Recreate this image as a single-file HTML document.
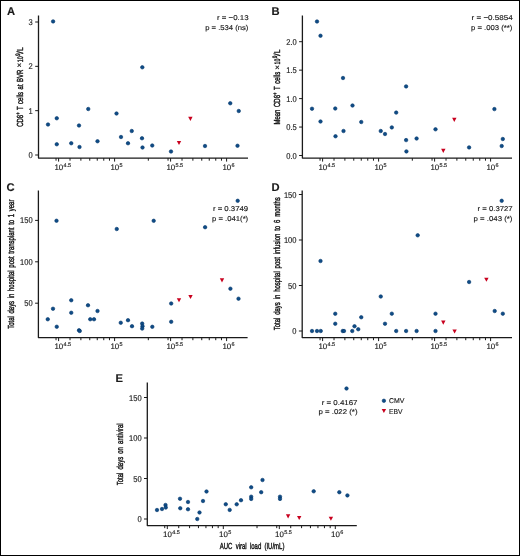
<!DOCTYPE html>
<html><head><meta charset="utf-8"><style>
html,body{margin:0;padding:0;background:#fff;}
body{width:520px;height:556px;overflow:hidden;font-family:"Liberation Sans",sans-serif;}
svg{display:block;will-change:transform;}
text{font-family:"Liberation Sans",sans-serif;text-rendering:geometricPrecision;stroke:#111;stroke-width:0.14px;}
</style></head><body>
<svg width="520" height="556" viewBox="0 0 520 556">
<rect x="0" y="0" width="520" height="556" fill="#fff"/>
<rect x="0.5" y="0.5" width="519" height="555" fill="none" stroke="#000" stroke-width="1"/>
<g font-family="Liberation Sans, sans-serif" fill="#1a1a1a" stroke-linejoin="round">
<path d="M38.50 15.50V158.10H248.00" fill="none" stroke="#1a1a1a" stroke-width="1.3"/>
<path d="M35.20 155.00H38.50" stroke="#1a1a1a" stroke-width="1"/>
<text transform="translate(32.80 158.00) scale(0.9 1)" font-size="8.4" text-anchor="end">0</text>
<path d="M35.20 110.67H38.50" stroke="#1a1a1a" stroke-width="1"/>
<text transform="translate(32.80 113.67) scale(0.9 1)" font-size="8.4" text-anchor="end">1</text>
<path d="M35.20 66.34H38.50" stroke="#1a1a1a" stroke-width="1"/>
<text transform="translate(32.80 69.34) scale(0.9 1)" font-size="8.4" text-anchor="end">2</text>
<path d="M35.20 22.01H38.50" stroke="#1a1a1a" stroke-width="1"/>
<text transform="translate(32.80 25.01) scale(0.9 1)" font-size="8.4" text-anchor="end">3</text>
<path d="M56.04 158.10v2.6" stroke="#1a1a1a" stroke-width="1"/>
<path d="M70.03 158.10v2.6" stroke="#1a1a1a" stroke-width="1"/>
<path d="M80.88 158.10v2.6" stroke="#1a1a1a" stroke-width="1"/>
<path d="M89.75 158.10v2.6" stroke="#1a1a1a" stroke-width="1"/>
<path d="M97.25 158.10v2.6" stroke="#1a1a1a" stroke-width="1"/>
<path d="M103.75 158.10v2.6" stroke="#1a1a1a" stroke-width="1"/>
<path d="M109.48 158.10v2.6" stroke="#1a1a1a" stroke-width="1"/>
<path d="M114.60 158.10v3.5" stroke="#1a1a1a" stroke-width="1"/>
<path d="M148.32 158.10v2.6" stroke="#1a1a1a" stroke-width="1"/>
<path d="M168.04 158.10v2.6" stroke="#1a1a1a" stroke-width="1"/>
<path d="M182.03 158.10v2.6" stroke="#1a1a1a" stroke-width="1"/>
<path d="M192.88 158.10v2.6" stroke="#1a1a1a" stroke-width="1"/>
<path d="M201.75 158.10v2.6" stroke="#1a1a1a" stroke-width="1"/>
<path d="M209.25 158.10v2.6" stroke="#1a1a1a" stroke-width="1"/>
<path d="M215.75 158.10v2.6" stroke="#1a1a1a" stroke-width="1"/>
<path d="M221.48 158.10v2.6" stroke="#1a1a1a" stroke-width="1"/>
<path d="M226.60 158.10v3.5" stroke="#1a1a1a" stroke-width="1"/>
<path d="M58.60 158.10v3.5" stroke="#1a1a1a" stroke-width="1"/>
<path d="M170.60 158.10v3.5" stroke="#1a1a1a" stroke-width="1"/>
<text x="54.40" y="169.90" font-size="7.9">10<tspan dx="0.3" dy="-3.1" font-size="5.5">4.5</tspan></text>
<text x="110.40" y="169.90" font-size="7.9">10<tspan dx="0.3" dy="-3.1" font-size="5.5">5</tspan></text>
<text x="166.40" y="169.90" font-size="7.9">10<tspan dx="0.3" dy="-3.1" font-size="5.5">5.5</tspan></text>
<text x="222.40" y="169.90" font-size="7.9">10<tspan dx="0.3" dy="-3.1" font-size="5.5">6</tspan></text>
<text x="6.90" y="14.90" font-size="11.2" font-weight="bold">A</text>
<text x="248.60" y="20.20" font-size="7" text-anchor="end" textLength="31.60" lengthAdjust="spacingAndGlyphs">r = &#8722;0.13</text>
<text x="248.40" y="29.60" font-size="7" text-anchor="end" textLength="43.20" lengthAdjust="spacingAndGlyphs">p = .534 (ns)</text>
<text id="labA" transform="translate(22.80 126.80) rotate(-90) scale(0.68 1)" font-size="8.8" style="word-spacing:1.257px;stroke-width:0.42px">CD8<tspan dy="-3.2" font-size="6.2">+</tspan><tspan dy="3.2"> T cells at BVR</tspan></text>
<text transform="translate(22.3 65.0) rotate(-90)" font-size="8.2" text-anchor="middle" style="stroke-width:0.2px">&#215;</text>
<text transform="translate(22.80 62.30) rotate(-90) scale(0.66 1)" font-size="8.0" style="stroke-width:0.38px">10</text>
<text transform="translate(20.00 56.10) rotate(-90) scale(0.76 1)" font-size="6.4" style="stroke-width:0.38px">9</text>
<text transform="translate(22.80 53.70) rotate(-90) scale(1.1 1)" font-size="8.6" style="stroke-width:0.38px">/</text>
<text transform="translate(22.80 50.80) rotate(-90) scale(0.73 1)" font-size="8.6" style="stroke-width:0.38px">L</text>
<path d="M302.40 15.50V158.10H512.00" fill="none" stroke="#1a1a1a" stroke-width="1.3"/>
<path d="M299.10 155.50H302.40" stroke="#1a1a1a" stroke-width="1"/>
<text transform="translate(296.70 158.50) scale(0.9 1)" font-size="8.4" text-anchor="end">0.0</text>
<path d="M299.10 127.05H302.40" stroke="#1a1a1a" stroke-width="1"/>
<text transform="translate(296.70 130.05) scale(0.9 1)" font-size="8.4" text-anchor="end">0.5</text>
<path d="M299.10 98.60H302.40" stroke="#1a1a1a" stroke-width="1"/>
<text transform="translate(296.70 101.60) scale(0.9 1)" font-size="8.4" text-anchor="end">1.0</text>
<path d="M299.10 70.15H302.40" stroke="#1a1a1a" stroke-width="1"/>
<text transform="translate(296.70 73.15) scale(0.9 1)" font-size="8.4" text-anchor="end">1.5</text>
<path d="M299.10 41.70H302.40" stroke="#1a1a1a" stroke-width="1"/>
<text transform="translate(296.70 44.70) scale(0.9 1)" font-size="8.4" text-anchor="end">2.0</text>
<path d="M320.04 158.10v2.6" stroke="#1a1a1a" stroke-width="1"/>
<path d="M334.03 158.10v2.6" stroke="#1a1a1a" stroke-width="1"/>
<path d="M344.88 158.10v2.6" stroke="#1a1a1a" stroke-width="1"/>
<path d="M353.75 158.10v2.6" stroke="#1a1a1a" stroke-width="1"/>
<path d="M361.25 158.10v2.6" stroke="#1a1a1a" stroke-width="1"/>
<path d="M367.75 158.10v2.6" stroke="#1a1a1a" stroke-width="1"/>
<path d="M373.48 158.10v2.6" stroke="#1a1a1a" stroke-width="1"/>
<path d="M378.60 158.10v3.5" stroke="#1a1a1a" stroke-width="1"/>
<path d="M412.32 158.10v2.6" stroke="#1a1a1a" stroke-width="1"/>
<path d="M432.04 158.10v2.6" stroke="#1a1a1a" stroke-width="1"/>
<path d="M446.03 158.10v2.6" stroke="#1a1a1a" stroke-width="1"/>
<path d="M456.88 158.10v2.6" stroke="#1a1a1a" stroke-width="1"/>
<path d="M465.75 158.10v2.6" stroke="#1a1a1a" stroke-width="1"/>
<path d="M473.25 158.10v2.6" stroke="#1a1a1a" stroke-width="1"/>
<path d="M479.75 158.10v2.6" stroke="#1a1a1a" stroke-width="1"/>
<path d="M485.48 158.10v2.6" stroke="#1a1a1a" stroke-width="1"/>
<path d="M490.60 158.10v3.5" stroke="#1a1a1a" stroke-width="1"/>
<path d="M322.60 158.10v3.5" stroke="#1a1a1a" stroke-width="1"/>
<path d="M434.60 158.10v3.5" stroke="#1a1a1a" stroke-width="1"/>
<text x="318.40" y="169.90" font-size="7.9">10<tspan dx="0.3" dy="-3.1" font-size="5.5">4.5</tspan></text>
<text x="374.40" y="169.90" font-size="7.9">10<tspan dx="0.3" dy="-3.1" font-size="5.5">5</tspan></text>
<text x="430.40" y="169.90" font-size="7.9">10<tspan dx="0.3" dy="-3.1" font-size="5.5">5.5</tspan></text>
<text x="486.40" y="169.90" font-size="7.9">10<tspan dx="0.3" dy="-3.1" font-size="5.5">6</tspan></text>
<text x="271.50" y="15.00" font-size="11.2" font-weight="bold">B</text>
<text x="512.60" y="20.20" font-size="7" text-anchor="end" textLength="41.00" lengthAdjust="spacingAndGlyphs">r = &#8722;0.5854</text>
<text x="512.40" y="29.60" font-size="7" text-anchor="end" textLength="41.40" lengthAdjust="spacingAndGlyphs">p = .003 (**)</text>
<text id="labB" transform="translate(280.00 124.60) rotate(-90) scale(0.68 1)" font-size="8.8" style="word-spacing:1.474px;stroke-width:0.42px">Mean CD8<tspan dy="-3.2" font-size="6.2">+</tspan><tspan dy="3.2"> T cells</tspan></text>
<text transform="translate(279.5 67.3) rotate(-90)" font-size="8.2" text-anchor="middle" style="stroke-width:0.2px">&#215;</text>
<text transform="translate(280.00 64.50) rotate(-90) scale(0.66 1)" font-size="8.0" style="stroke-width:0.38px">10</text>
<text transform="translate(277.20 58.30) rotate(-90) scale(0.76 1)" font-size="6.4" style="stroke-width:0.38px">9</text>
<text transform="translate(280.00 55.90) rotate(-90) scale(1.1 1)" font-size="8.6" style="stroke-width:0.38px">/</text>
<text transform="translate(280.00 53.00) rotate(-90) scale(0.73 1)" font-size="8.6" style="stroke-width:0.38px">L</text>
<path d="M38.40 190.50V337.60H247.60" fill="none" stroke="#1a1a1a" stroke-width="1.3"/>
<path d="M35.10 303.20H38.40" stroke="#1a1a1a" stroke-width="1"/>
<text transform="translate(32.70 306.20) scale(0.9 1)" font-size="8.4" text-anchor="end">50</text>
<path d="M35.10 261.80H38.40" stroke="#1a1a1a" stroke-width="1"/>
<text transform="translate(32.70 264.80) scale(0.9 1)" font-size="8.4" text-anchor="end">100</text>
<path d="M35.10 220.40H38.40" stroke="#1a1a1a" stroke-width="1"/>
<text transform="translate(32.70 223.40) scale(0.9 1)" font-size="8.4" text-anchor="end">150</text>
<path d="M56.04 337.60v2.6" stroke="#1a1a1a" stroke-width="1"/>
<path d="M70.03 337.60v2.6" stroke="#1a1a1a" stroke-width="1"/>
<path d="M80.88 337.60v2.6" stroke="#1a1a1a" stroke-width="1"/>
<path d="M89.75 337.60v2.6" stroke="#1a1a1a" stroke-width="1"/>
<path d="M97.25 337.60v2.6" stroke="#1a1a1a" stroke-width="1"/>
<path d="M103.75 337.60v2.6" stroke="#1a1a1a" stroke-width="1"/>
<path d="M109.48 337.60v2.6" stroke="#1a1a1a" stroke-width="1"/>
<path d="M114.60 337.60v3.5" stroke="#1a1a1a" stroke-width="1"/>
<path d="M148.32 337.60v2.6" stroke="#1a1a1a" stroke-width="1"/>
<path d="M168.04 337.60v2.6" stroke="#1a1a1a" stroke-width="1"/>
<path d="M182.03 337.60v2.6" stroke="#1a1a1a" stroke-width="1"/>
<path d="M192.88 337.60v2.6" stroke="#1a1a1a" stroke-width="1"/>
<path d="M201.75 337.60v2.6" stroke="#1a1a1a" stroke-width="1"/>
<path d="M209.25 337.60v2.6" stroke="#1a1a1a" stroke-width="1"/>
<path d="M215.75 337.60v2.6" stroke="#1a1a1a" stroke-width="1"/>
<path d="M221.48 337.60v2.6" stroke="#1a1a1a" stroke-width="1"/>
<path d="M226.60 337.60v3.5" stroke="#1a1a1a" stroke-width="1"/>
<path d="M58.60 337.60v3.5" stroke="#1a1a1a" stroke-width="1"/>
<path d="M170.60 337.60v3.5" stroke="#1a1a1a" stroke-width="1"/>
<text x="54.40" y="349.40" font-size="7.9">10<tspan dx="0.3" dy="-3.1" font-size="5.5">4.5</tspan></text>
<text x="110.40" y="349.40" font-size="7.9">10<tspan dx="0.3" dy="-3.1" font-size="5.5">5</tspan></text>
<text x="166.40" y="349.40" font-size="7.9">10<tspan dx="0.3" dy="-3.1" font-size="5.5">5.5</tspan></text>
<text x="222.40" y="349.40" font-size="7.9">10<tspan dx="0.3" dy="-3.1" font-size="5.5">6</tspan></text>
<text x="6.40" y="190.60" font-size="11.2" font-weight="bold">C</text>
<text x="248.20" y="211.30" font-size="7" text-anchor="end" textLength="35.30" lengthAdjust="spacingAndGlyphs">r = 0.3749</text>
<text x="248.20" y="220.60" font-size="7" text-anchor="end" textLength="36.10" lengthAdjust="spacingAndGlyphs">p = .041(*)</text>
<text id="labC" transform="translate(14.00 328.80) rotate(-90) scale(0.68 1)" font-size="8.8" style="word-spacing:1.439px;stroke-width:0.42px">Total days in hospital post transplant to 1 year</text>
<path d="M302.20 190.50V337.60H512.00" fill="none" stroke="#1a1a1a" stroke-width="1.3"/>
<path d="M298.90 331.00H302.20" stroke="#1a1a1a" stroke-width="1"/>
<text transform="translate(296.50 334.00) scale(0.9 1)" font-size="8.4" text-anchor="end">0</text>
<path d="M298.90 285.50H302.20" stroke="#1a1a1a" stroke-width="1"/>
<text transform="translate(296.50 288.50) scale(0.9 1)" font-size="8.4" text-anchor="end">50</text>
<path d="M298.90 240.00H302.20" stroke="#1a1a1a" stroke-width="1"/>
<text transform="translate(296.50 243.00) scale(0.9 1)" font-size="8.4" text-anchor="end">100</text>
<path d="M298.90 194.50H302.20" stroke="#1a1a1a" stroke-width="1"/>
<text transform="translate(296.50 197.50) scale(0.9 1)" font-size="8.4" text-anchor="end">150</text>
<path d="M320.04 337.60v2.6" stroke="#1a1a1a" stroke-width="1"/>
<path d="M334.03 337.60v2.6" stroke="#1a1a1a" stroke-width="1"/>
<path d="M344.88 337.60v2.6" stroke="#1a1a1a" stroke-width="1"/>
<path d="M353.75 337.60v2.6" stroke="#1a1a1a" stroke-width="1"/>
<path d="M361.25 337.60v2.6" stroke="#1a1a1a" stroke-width="1"/>
<path d="M367.75 337.60v2.6" stroke="#1a1a1a" stroke-width="1"/>
<path d="M373.48 337.60v2.6" stroke="#1a1a1a" stroke-width="1"/>
<path d="M378.60 337.60v3.5" stroke="#1a1a1a" stroke-width="1"/>
<path d="M412.32 337.60v2.6" stroke="#1a1a1a" stroke-width="1"/>
<path d="M432.04 337.60v2.6" stroke="#1a1a1a" stroke-width="1"/>
<path d="M446.03 337.60v2.6" stroke="#1a1a1a" stroke-width="1"/>
<path d="M456.88 337.60v2.6" stroke="#1a1a1a" stroke-width="1"/>
<path d="M465.75 337.60v2.6" stroke="#1a1a1a" stroke-width="1"/>
<path d="M473.25 337.60v2.6" stroke="#1a1a1a" stroke-width="1"/>
<path d="M479.75 337.60v2.6" stroke="#1a1a1a" stroke-width="1"/>
<path d="M485.48 337.60v2.6" stroke="#1a1a1a" stroke-width="1"/>
<path d="M490.60 337.60v3.5" stroke="#1a1a1a" stroke-width="1"/>
<path d="M322.60 337.60v3.5" stroke="#1a1a1a" stroke-width="1"/>
<path d="M434.60 337.60v3.5" stroke="#1a1a1a" stroke-width="1"/>
<text x="318.40" y="349.40" font-size="7.9">10<tspan dx="0.3" dy="-3.1" font-size="5.5">4.5</tspan></text>
<text x="374.40" y="349.40" font-size="7.9">10<tspan dx="0.3" dy="-3.1" font-size="5.5">5</tspan></text>
<text x="430.40" y="349.40" font-size="7.9">10<tspan dx="0.3" dy="-3.1" font-size="5.5">5.5</tspan></text>
<text x="486.40" y="349.40" font-size="7.9">10<tspan dx="0.3" dy="-3.1" font-size="5.5">6</tspan></text>
<text x="271.50" y="190.60" font-size="11.2" font-weight="bold">D</text>
<text x="512.60" y="211.30" font-size="7" text-anchor="end" textLength="35.00" lengthAdjust="spacingAndGlyphs">r = 0.3727</text>
<text x="512.40" y="220.60" font-size="7" text-anchor="end" textLength="38.80" lengthAdjust="spacingAndGlyphs">p = .043 (*)</text>
<text id="labD" transform="translate(279.50 330.30) rotate(-90) scale(0.68 1)" font-size="8.8" style="word-spacing:1.727px;stroke-width:0.42px">Total days in hospital post infusion to 6 months</text>
<path d="M147.30 382.50V525.55H356.80" fill="none" stroke="#1a1a1a" stroke-width="1.3"/>
<path d="M144.00 519.00H147.30" stroke="#1a1a1a" stroke-width="1"/>
<text transform="translate(141.60 522.00) scale(0.9 1)" font-size="8.4" text-anchor="end">0</text>
<path d="M144.00 478.50H147.30" stroke="#1a1a1a" stroke-width="1"/>
<text transform="translate(141.60 481.50) scale(0.9 1)" font-size="8.4" text-anchor="end">50</text>
<path d="M144.00 438.00H147.30" stroke="#1a1a1a" stroke-width="1"/>
<text transform="translate(141.60 441.00) scale(0.9 1)" font-size="8.4" text-anchor="end">100</text>
<path d="M144.00 397.50H147.30" stroke="#1a1a1a" stroke-width="1"/>
<text transform="translate(141.60 400.50) scale(0.9 1)" font-size="8.4" text-anchor="end">150</text>
<path d="M164.74 525.55v2.6" stroke="#1a1a1a" stroke-width="1"/>
<path d="M178.73 525.55v2.6" stroke="#1a1a1a" stroke-width="1"/>
<path d="M189.58 525.55v2.6" stroke="#1a1a1a" stroke-width="1"/>
<path d="M198.45 525.55v2.6" stroke="#1a1a1a" stroke-width="1"/>
<path d="M205.95 525.55v2.6" stroke="#1a1a1a" stroke-width="1"/>
<path d="M212.45 525.55v2.6" stroke="#1a1a1a" stroke-width="1"/>
<path d="M218.18 525.55v2.6" stroke="#1a1a1a" stroke-width="1"/>
<path d="M223.30 525.55v3.5" stroke="#1a1a1a" stroke-width="1"/>
<path d="M257.02 525.55v2.6" stroke="#1a1a1a" stroke-width="1"/>
<path d="M276.74 525.55v2.6" stroke="#1a1a1a" stroke-width="1"/>
<path d="M290.73 525.55v2.6" stroke="#1a1a1a" stroke-width="1"/>
<path d="M301.58 525.55v2.6" stroke="#1a1a1a" stroke-width="1"/>
<path d="M310.45 525.55v2.6" stroke="#1a1a1a" stroke-width="1"/>
<path d="M317.95 525.55v2.6" stroke="#1a1a1a" stroke-width="1"/>
<path d="M324.45 525.55v2.6" stroke="#1a1a1a" stroke-width="1"/>
<path d="M330.18 525.55v2.6" stroke="#1a1a1a" stroke-width="1"/>
<path d="M335.30 525.55v3.5" stroke="#1a1a1a" stroke-width="1"/>
<path d="M167.30 525.55v3.5" stroke="#1a1a1a" stroke-width="1"/>
<path d="M279.30 525.55v3.5" stroke="#1a1a1a" stroke-width="1"/>
<text x="163.10" y="537.35" font-size="7.9">10<tspan dx="0.3" dy="-3.1" font-size="5.5">4.5</tspan></text>
<text x="219.10" y="537.35" font-size="7.9">10<tspan dx="0.3" dy="-3.1" font-size="5.5">5</tspan></text>
<text x="275.10" y="537.35" font-size="7.9">10<tspan dx="0.3" dy="-3.1" font-size="5.5">5.5</tspan></text>
<text x="331.10" y="537.35" font-size="7.9">10<tspan dx="0.3" dy="-3.1" font-size="5.5">6</tspan></text>
<text x="115.60" y="382.20" font-size="11.2" font-weight="bold">E</text>
<text x="357.50" y="404.60" font-size="7" text-anchor="end" textLength="35.80" lengthAdjust="spacingAndGlyphs">r = 0.4167</text>
<text x="357.50" y="414.00" font-size="7" text-anchor="end" textLength="39.00" lengthAdjust="spacingAndGlyphs">p = .022 (*)</text>
<text id="labE" transform="translate(122.50 485.30) rotate(-90) scale(0.68 1)" font-size="8.8" style="word-spacing:2.193px;stroke-width:0.42px">Total days on antiviral</text>
<text id="labX" transform="translate(219.80 548.90) scale(0.68 1)" font-size="8.8" style="word-spacing:2.337px;stroke-width:0.42px">AUC viral load (IU/mL)</text>
<circle cx="383.90" cy="400.80" r="1.75" fill="#0f4c86" stroke="#02356c" stroke-width="0.6"/>
<path d="M381.70 409.00L386.10 409.00L383.90 413.10Z" fill="#c8001e"/>
<text x="389.00" y="402.80" font-size="7" textLength="15.40" lengthAdjust="spacingAndGlyphs">CMV</text>
<text x="389.00" y="413.80" font-size="7" textLength="13.50" lengthAdjust="spacingAndGlyphs">EBV</text>
<circle cx="53.10" cy="21.40" r="1.75" fill="#0f4c86" stroke="#02356c" stroke-width="0.6"/>
<circle cx="142.30" cy="67.30" r="1.75" fill="#0f4c86" stroke="#02356c" stroke-width="0.6"/>
<circle cx="48.00" cy="124.50" r="1.75" fill="#0f4c86" stroke="#02356c" stroke-width="0.6"/>
<circle cx="56.75" cy="118.25" r="1.75" fill="#0f4c86" stroke="#02356c" stroke-width="0.6"/>
<circle cx="56.75" cy="144.25" r="1.75" fill="#0f4c86" stroke="#02356c" stroke-width="0.6"/>
<circle cx="71.25" cy="143.25" r="1.75" fill="#0f4c86" stroke="#02356c" stroke-width="0.6"/>
<circle cx="79.00" cy="125.50" r="1.75" fill="#0f4c86" stroke="#02356c" stroke-width="0.6"/>
<circle cx="79.50" cy="147.00" r="1.75" fill="#0f4c86" stroke="#02356c" stroke-width="0.6"/>
<circle cx="88.25" cy="109.00" r="1.75" fill="#0f4c86" stroke="#02356c" stroke-width="0.6"/>
<circle cx="97.50" cy="141.25" r="1.75" fill="#0f4c86" stroke="#02356c" stroke-width="0.6"/>
<circle cx="116.50" cy="113.50" r="1.75" fill="#0f4c86" stroke="#02356c" stroke-width="0.6"/>
<circle cx="121.00" cy="137.00" r="1.75" fill="#0f4c86" stroke="#02356c" stroke-width="0.6"/>
<circle cx="128.00" cy="143.25" r="1.75" fill="#0f4c86" stroke="#02356c" stroke-width="0.6"/>
<circle cx="131.75" cy="131.00" r="1.75" fill="#0f4c86" stroke="#02356c" stroke-width="0.6"/>
<circle cx="142.00" cy="138.25" r="1.75" fill="#0f4c86" stroke="#02356c" stroke-width="0.6"/>
<circle cx="142.50" cy="147.50" r="1.75" fill="#0f4c86" stroke="#02356c" stroke-width="0.6"/>
<circle cx="152.25" cy="145.50" r="1.75" fill="#0f4c86" stroke="#02356c" stroke-width="0.6"/>
<circle cx="171.00" cy="151.50" r="1.75" fill="#0f4c86" stroke="#02356c" stroke-width="0.6"/>
<circle cx="205.00" cy="146.00" r="1.75" fill="#0f4c86" stroke="#02356c" stroke-width="0.6"/>
<circle cx="230.25" cy="103.25" r="1.75" fill="#0f4c86" stroke="#02356c" stroke-width="0.6"/>
<circle cx="238.75" cy="111.00" r="1.75" fill="#0f4c86" stroke="#02356c" stroke-width="0.6"/>
<circle cx="237.50" cy="145.75" r="1.75" fill="#0f4c86" stroke="#02356c" stroke-width="0.6"/>
<circle cx="317.00" cy="21.50" r="1.75" fill="#0f4c86" stroke="#02356c" stroke-width="0.6"/>
<circle cx="320.50" cy="35.75" r="1.75" fill="#0f4c86" stroke="#02356c" stroke-width="0.6"/>
<circle cx="343.00" cy="78.00" r="1.75" fill="#0f4c86" stroke="#02356c" stroke-width="0.6"/>
<circle cx="312.00" cy="108.75" r="1.75" fill="#0f4c86" stroke="#02356c" stroke-width="0.6"/>
<circle cx="320.50" cy="121.50" r="1.75" fill="#0f4c86" stroke="#02356c" stroke-width="0.6"/>
<circle cx="335.25" cy="108.50" r="1.75" fill="#0f4c86" stroke="#02356c" stroke-width="0.6"/>
<circle cx="335.50" cy="136.25" r="1.75" fill="#0f4c86" stroke="#02356c" stroke-width="0.6"/>
<circle cx="343.50" cy="131.00" r="1.75" fill="#0f4c86" stroke="#02356c" stroke-width="0.6"/>
<circle cx="352.50" cy="105.50" r="1.75" fill="#0f4c86" stroke="#02356c" stroke-width="0.6"/>
<circle cx="361.25" cy="122.00" r="1.75" fill="#0f4c86" stroke="#02356c" stroke-width="0.6"/>
<circle cx="380.75" cy="131.00" r="1.75" fill="#0f4c86" stroke="#02356c" stroke-width="0.6"/>
<circle cx="385.00" cy="134.00" r="1.75" fill="#0f4c86" stroke="#02356c" stroke-width="0.6"/>
<circle cx="391.80" cy="127.40" r="1.75" fill="#0f4c86" stroke="#02356c" stroke-width="0.6"/>
<circle cx="396.20" cy="112.60" r="1.75" fill="#0f4c86" stroke="#02356c" stroke-width="0.6"/>
<circle cx="406.10" cy="86.40" r="1.75" fill="#0f4c86" stroke="#02356c" stroke-width="0.6"/>
<circle cx="406.10" cy="140.10" r="1.75" fill="#0f4c86" stroke="#02356c" stroke-width="0.6"/>
<circle cx="406.40" cy="151.40" r="1.75" fill="#0f4c86" stroke="#02356c" stroke-width="0.6"/>
<circle cx="416.60" cy="138.50" r="1.75" fill="#0f4c86" stroke="#02356c" stroke-width="0.6"/>
<circle cx="435.50" cy="129.30" r="1.75" fill="#0f4c86" stroke="#02356c" stroke-width="0.6"/>
<circle cx="469.10" cy="147.40" r="1.75" fill="#0f4c86" stroke="#02356c" stroke-width="0.6"/>
<circle cx="494.40" cy="109.10" r="1.75" fill="#0f4c86" stroke="#02356c" stroke-width="0.6"/>
<circle cx="501.70" cy="146.00" r="1.75" fill="#0f4c86" stroke="#02356c" stroke-width="0.6"/>
<circle cx="502.80" cy="139.00" r="1.75" fill="#0f4c86" stroke="#02356c" stroke-width="0.6"/>
<circle cx="56.50" cy="220.75" r="1.75" fill="#0f4c86" stroke="#02356c" stroke-width="0.6"/>
<circle cx="116.75" cy="229.00" r="1.75" fill="#0f4c86" stroke="#02356c" stroke-width="0.6"/>
<circle cx="153.70" cy="220.80" r="1.75" fill="#0f4c86" stroke="#02356c" stroke-width="0.6"/>
<circle cx="205.10" cy="227.20" r="1.75" fill="#0f4c86" stroke="#02356c" stroke-width="0.6"/>
<circle cx="237.70" cy="200.80" r="1.75" fill="#0f4c86" stroke="#02356c" stroke-width="0.6"/>
<circle cx="47.75" cy="319.25" r="1.75" fill="#0f4c86" stroke="#02356c" stroke-width="0.6"/>
<circle cx="53.00" cy="308.75" r="1.75" fill="#0f4c86" stroke="#02356c" stroke-width="0.6"/>
<circle cx="56.75" cy="326.75" r="1.75" fill="#0f4c86" stroke="#02356c" stroke-width="0.6"/>
<circle cx="71.25" cy="300.25" r="1.75" fill="#0f4c86" stroke="#02356c" stroke-width="0.6"/>
<circle cx="71.25" cy="312.75" r="1.75" fill="#0f4c86" stroke="#02356c" stroke-width="0.6"/>
<circle cx="79.00" cy="330.25" r="1.75" fill="#0f4c86" stroke="#02356c" stroke-width="0.6"/>
<circle cx="79.75" cy="331.00" r="1.75" fill="#0f4c86" stroke="#02356c" stroke-width="0.6"/>
<circle cx="88.00" cy="305.25" r="1.75" fill="#0f4c86" stroke="#02356c" stroke-width="0.6"/>
<circle cx="90.25" cy="319.25" r="1.75" fill="#0f4c86" stroke="#02356c" stroke-width="0.6"/>
<circle cx="94.00" cy="319.25" r="1.75" fill="#0f4c86" stroke="#02356c" stroke-width="0.6"/>
<circle cx="97.50" cy="311.00" r="1.75" fill="#0f4c86" stroke="#02356c" stroke-width="0.6"/>
<circle cx="120.75" cy="322.75" r="1.75" fill="#0f4c86" stroke="#02356c" stroke-width="0.6"/>
<circle cx="128.00" cy="320.20" r="1.75" fill="#0f4c86" stroke="#02356c" stroke-width="0.6"/>
<circle cx="132.00" cy="326.20" r="1.75" fill="#0f4c86" stroke="#02356c" stroke-width="0.6"/>
<circle cx="142.20" cy="323.60" r="1.75" fill="#0f4c86" stroke="#02356c" stroke-width="0.6"/>
<circle cx="142.50" cy="326.20" r="1.75" fill="#0f4c86" stroke="#02356c" stroke-width="0.6"/>
<circle cx="142.20" cy="328.60" r="1.75" fill="#0f4c86" stroke="#02356c" stroke-width="0.6"/>
<circle cx="152.30" cy="326.80" r="1.75" fill="#0f4c86" stroke="#02356c" stroke-width="0.6"/>
<circle cx="171.20" cy="303.50" r="1.75" fill="#0f4c86" stroke="#02356c" stroke-width="0.6"/>
<circle cx="171.20" cy="321.80" r="1.75" fill="#0f4c86" stroke="#02356c" stroke-width="0.6"/>
<circle cx="230.40" cy="288.70" r="1.75" fill="#0f4c86" stroke="#02356c" stroke-width="0.6"/>
<circle cx="238.50" cy="298.70" r="1.75" fill="#0f4c86" stroke="#02356c" stroke-width="0.6"/>
<circle cx="320.50" cy="261.00" r="1.75" fill="#0f4c86" stroke="#02356c" stroke-width="0.6"/>
<circle cx="312.00" cy="331.00" r="1.75" fill="#0f4c86" stroke="#02356c" stroke-width="0.6"/>
<circle cx="317.00" cy="331.00" r="1.75" fill="#0f4c86" stroke="#02356c" stroke-width="0.6"/>
<circle cx="320.75" cy="331.00" r="1.75" fill="#0f4c86" stroke="#02356c" stroke-width="0.6"/>
<circle cx="335.25" cy="313.75" r="1.75" fill="#0f4c86" stroke="#02356c" stroke-width="0.6"/>
<circle cx="335.25" cy="323.75" r="1.75" fill="#0f4c86" stroke="#02356c" stroke-width="0.6"/>
<circle cx="342.75" cy="331.00" r="1.75" fill="#0f4c86" stroke="#02356c" stroke-width="0.6"/>
<circle cx="344.00" cy="331.00" r="1.75" fill="#0f4c86" stroke="#02356c" stroke-width="0.6"/>
<circle cx="352.25" cy="331.00" r="1.75" fill="#0f4c86" stroke="#02356c" stroke-width="0.6"/>
<circle cx="354.50" cy="326.25" r="1.75" fill="#0f4c86" stroke="#02356c" stroke-width="0.6"/>
<circle cx="358.25" cy="329.25" r="1.75" fill="#0f4c86" stroke="#02356c" stroke-width="0.6"/>
<circle cx="361.25" cy="317.25" r="1.75" fill="#0f4c86" stroke="#02356c" stroke-width="0.6"/>
<circle cx="380.75" cy="296.50" r="1.75" fill="#0f4c86" stroke="#02356c" stroke-width="0.6"/>
<circle cx="385.00" cy="323.75" r="1.75" fill="#0f4c86" stroke="#02356c" stroke-width="0.6"/>
<circle cx="391.80" cy="313.70" r="1.75" fill="#0f4c86" stroke="#02356c" stroke-width="0.6"/>
<circle cx="396.20" cy="331.00" r="1.75" fill="#0f4c86" stroke="#02356c" stroke-width="0.6"/>
<circle cx="406.10" cy="331.00" r="1.75" fill="#0f4c86" stroke="#02356c" stroke-width="0.6"/>
<circle cx="416.60" cy="331.00" r="1.75" fill="#0f4c86" stroke="#02356c" stroke-width="0.6"/>
<circle cx="417.70" cy="235.30" r="1.75" fill="#0f4c86" stroke="#02356c" stroke-width="0.6"/>
<circle cx="435.50" cy="313.70" r="1.75" fill="#0f4c86" stroke="#02356c" stroke-width="0.6"/>
<circle cx="435.50" cy="331.00" r="1.75" fill="#0f4c86" stroke="#02356c" stroke-width="0.6"/>
<circle cx="469.10" cy="282.00" r="1.75" fill="#0f4c86" stroke="#02356c" stroke-width="0.6"/>
<circle cx="494.70" cy="311.00" r="1.75" fill="#0f4c86" stroke="#02356c" stroke-width="0.6"/>
<circle cx="501.70" cy="200.80" r="1.75" fill="#0f4c86" stroke="#02356c" stroke-width="0.6"/>
<circle cx="502.80" cy="313.70" r="1.75" fill="#0f4c86" stroke="#02356c" stroke-width="0.6"/>
<circle cx="157.00" cy="510.00" r="1.75" fill="#0f4c86" stroke="#02356c" stroke-width="0.6"/>
<circle cx="162.00" cy="509.00" r="1.75" fill="#0f4c86" stroke="#02356c" stroke-width="0.6"/>
<circle cx="165.50" cy="505.00" r="1.75" fill="#0f4c86" stroke="#02356c" stroke-width="0.6"/>
<circle cx="165.75" cy="507.50" r="1.75" fill="#0f4c86" stroke="#02356c" stroke-width="0.6"/>
<circle cx="180.00" cy="498.75" r="1.75" fill="#0f4c86" stroke="#02356c" stroke-width="0.6"/>
<circle cx="180.25" cy="508.25" r="1.75" fill="#0f4c86" stroke="#02356c" stroke-width="0.6"/>
<circle cx="188.00" cy="502.00" r="1.75" fill="#0f4c86" stroke="#02356c" stroke-width="0.6"/>
<circle cx="188.00" cy="509.25" r="1.75" fill="#0f4c86" stroke="#02356c" stroke-width="0.6"/>
<circle cx="197.25" cy="519.00" r="1.75" fill="#0f4c86" stroke="#02356c" stroke-width="0.6"/>
<circle cx="199.50" cy="512.50" r="1.75" fill="#0f4c86" stroke="#02356c" stroke-width="0.6"/>
<circle cx="203.00" cy="501.00" r="1.75" fill="#0f4c86" stroke="#02356c" stroke-width="0.6"/>
<circle cx="206.50" cy="491.50" r="1.75" fill="#0f4c86" stroke="#02356c" stroke-width="0.6"/>
<circle cx="225.75" cy="504.25" r="1.75" fill="#0f4c86" stroke="#02356c" stroke-width="0.6"/>
<circle cx="229.70" cy="509.90" r="1.75" fill="#0f4c86" stroke="#02356c" stroke-width="0.6"/>
<circle cx="236.70" cy="504.30" r="1.75" fill="#0f4c86" stroke="#02356c" stroke-width="0.6"/>
<circle cx="241.00" cy="500.20" r="1.75" fill="#0f4c86" stroke="#02356c" stroke-width="0.6"/>
<circle cx="251.20" cy="487.30" r="1.75" fill="#0f4c86" stroke="#02356c" stroke-width="0.6"/>
<circle cx="251.20" cy="496.70" r="1.75" fill="#0f4c86" stroke="#02356c" stroke-width="0.6"/>
<circle cx="251.20" cy="498.90" r="1.75" fill="#0f4c86" stroke="#02356c" stroke-width="0.6"/>
<circle cx="261.20" cy="492.20" r="1.75" fill="#0f4c86" stroke="#02356c" stroke-width="0.6"/>
<circle cx="262.50" cy="480.00" r="1.75" fill="#0f4c86" stroke="#02356c" stroke-width="0.6"/>
<circle cx="280.00" cy="496.70" r="1.75" fill="#0f4c86" stroke="#02356c" stroke-width="0.6"/>
<circle cx="280.00" cy="498.90" r="1.75" fill="#0f4c86" stroke="#02356c" stroke-width="0.6"/>
<circle cx="313.70" cy="491.30" r="1.75" fill="#0f4c86" stroke="#02356c" stroke-width="0.6"/>
<circle cx="339.30" cy="492.20" r="1.75" fill="#0f4c86" stroke="#02356c" stroke-width="0.6"/>
<circle cx="347.40" cy="495.40" r="1.75" fill="#0f4c86" stroke="#02356c" stroke-width="0.6"/>
<circle cx="346.50" cy="388.50" r="1.75" fill="#0f4c86" stroke="#02356c" stroke-width="0.6"/>
<path d="M176.80 140.95L181.20 140.95L179.00 145.05Z" fill="#c8001e"/>
<path d="M188.20 116.80L192.60 116.80L190.40 120.90Z" fill="#c8001e"/>
<path d="M441.10 148.80L445.50 148.80L443.30 152.90Z" fill="#c8001e"/>
<path d="M452.10 117.80L456.50 117.80L454.30 121.90Z" fill="#c8001e"/>
<path d="M176.80 298.20L181.20 298.20L179.00 302.30Z" fill="#c8001e"/>
<path d="M188.30 295.00L192.70 295.00L190.50 299.10Z" fill="#c8001e"/>
<path d="M219.80 278.30L224.20 278.30L222.00 282.40Z" fill="#c8001e"/>
<path d="M441.10 320.60L445.50 320.60L443.30 324.70Z" fill="#c8001e"/>
<path d="M452.40 329.40L456.80 329.40L454.60 333.50Z" fill="#c8001e"/>
<path d="M484.20 277.70L488.60 277.70L486.40 281.80Z" fill="#c8001e"/>
<path d="M285.90 514.30L290.30 514.30L288.10 518.40Z" fill="#c8001e"/>
<path d="M297.00 515.90L301.40 515.90L299.20 520.00Z" fill="#c8001e"/>
<path d="M328.70 516.70L333.10 516.70L330.90 520.80Z" fill="#c8001e"/>
</g></svg>
</body></html>
